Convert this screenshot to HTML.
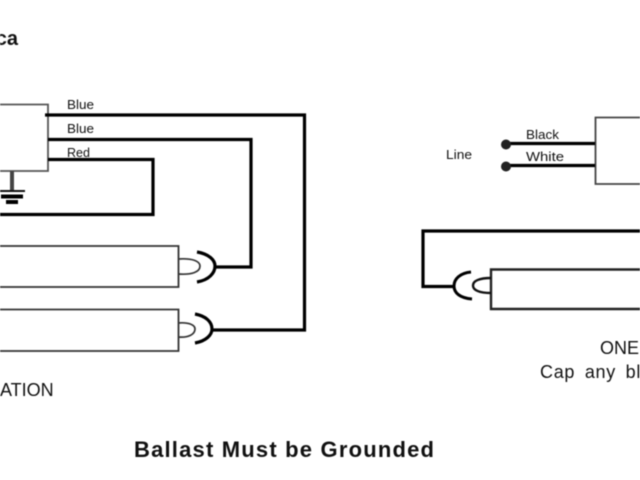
<!DOCTYPE html>
<html><head><meta charset="utf-8"><style>
html,body{margin:0;padding:0;background:#fff;width:640px;height:480px;overflow:hidden}
svg{display:block;filter:blur(.45px)}
text{font-family:"Liberation Sans",sans-serif;fill:#111}
</style></head><body>
<svg width="640" height="480" viewBox="0 0 640 480" xmlns="http://www.w3.org/2000/svg">
<rect width="640" height="480" fill="#fff"/>
<text x="18" y="45" font-size="20" font-weight="bold" fill="#111" text-anchor="end">ca</text>

<!-- left ballast -->
<path d="M0 104.500H48V171H0" fill="none" stroke="#555" stroke-width="1.800"/>
<g fill="none" stroke="#000" stroke-linejoin="miter">
<path d="M45 115H304.500V330H213" stroke-width="3.200"/>
<path d="M48 139.500H251V267H215" stroke-width="3.200"/>
<path d="M48 159.500H153V214.500H0" stroke-width="3.200"/>
</g>
<path d="M12 171V191" stroke="#444" stroke-width="4"/>
<path d="M0 191H25" stroke="#111" stroke-width="2"/>
<path d="M1 196.500H23" stroke="#000" stroke-width="4"/>
<path d="M6 202H18" stroke="#000" stroke-width="4"/>

<text x="67" y="109" font-size="12.500" textLength="27" lengthAdjust="spacingAndGlyphs">Blue</text>
<text x="67" y="133" font-size="12.500" textLength="27" lengthAdjust="spacingAndGlyphs">Blue</text>
<text x="67" y="157" font-size="12.500" textLength="23" lengthAdjust="spacingAndGlyphs">Red</text>

<!-- left tubes -->
<path d="M0 246H178.500V287H0" fill="none" stroke="#333" stroke-width="1.800"/>
<path d="M0 309.500H178.500V351H0" fill="none" stroke="#333" stroke-width="1.800"/>
<path d="M178 259C192 258 200 261 200 266C200 272 192 275 178 274" fill="none" stroke="#333" stroke-width="1.700"/>
<path d="M178 323C189 322 195 325 195 329C195 334 189 338 178 337" fill="none" stroke="#333" stroke-width="1.700"/>
<path d="M197 252C209 254 215 260 215 266C215 273 209 280 197 282" fill="none" stroke="#000" stroke-width="3.200"/>
<path d="M195 314C206 316 212 322 212 329C212 335 206 341 195 343" fill="none" stroke="#000" stroke-width="3.200"/>
<text x="0" y="396" font-size="18">ATION</text>

<!-- right ballast -->
<path d="M640 117.500H595.500V184H640" fill="none" stroke="#444" stroke-width="1.800"/>
<path d="M506 143.500H595M506 165.500H595" stroke="#000" stroke-width="3.200"/>
<circle cx="506" cy="144.500" r="5" fill="#222"/>
<circle cx="506" cy="166.500" r="5" fill="#222"/>
<text x="526" y="139" font-size="13" textLength="33" lengthAdjust="spacingAndGlyphs">Black</text>
<text x="526" y="161" font-size="13" textLength="38" lengthAdjust="spacingAndGlyphs">White</text>
<text x="446" y="159" font-size="13" textLength="26" lengthAdjust="spacingAndGlyphs">Line</text>

<!-- right tube -->
<path d="M640 231H423V286.500H453" fill="none" stroke="#000" stroke-width="3.200"/>
<path d="M640 269.500H491V309H640" fill="none" stroke="#222" stroke-width="2.400"/>
<path d="M471 272C460 273 454 279 454 286C454 293 460 298 472 299" fill="none" stroke="#000" stroke-width="3"/>
<path d="M491 278C479 278 473 281 473 285.500C473 290 479 293 491 293" fill="none" stroke="#111" stroke-width="2.400"/>

<text x="600" y="354" font-size="18">ONE LAMP</text>
<text x="540" y="378" font-size="18" letter-spacing=".7" word-spacing="4">Cap any blue</text>

<text x="134" y="457" font-size="22" font-weight="bold" fill="#111" textLength="300">Ballast Must be Grounded</text>
</svg>
</body></html>
